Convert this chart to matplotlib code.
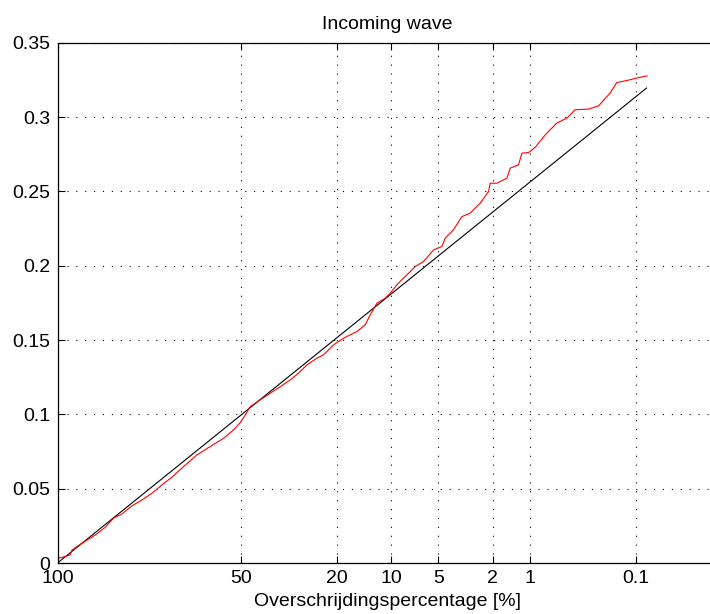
import numpy as np
import matplotlib
matplotlib.use('Agg')
import matplotlib.pyplot as plt
from matplotlib.ticker import NullLocator

# Overschrijdingspercentage (%) en golfhoogte van de gemeten verdeling (rood)
red_pct = [100.0, 99.96, 99.67, 99.57, 98.78, 97.10, 95.41, 93.73, 91.79, 89.21,
           86.29, 83.17, 79.85, 76.30, 72.05, 66.93, 61.77, 56.55, 52.73, 50.18,
           48.28, 46.42, 42.80, 39.27, 35.89, 32.68, 30.12, 27.67, 24.90, 23.19,
           20.72, 18.45, 15.70, 14.14, 13.26, 12.15, 10.87, 10.16, 9.26, 8.43,
           7.65, 7.11, 6.28, 5.38, 4.72, 4.48, 3.92, 3.41, 2.97, 2.49,
           2.15, 2.09, 1.85, 1.54, 1.45, 1.24, 1.16, 1.02, 0.895, 0.734,
           0.580, 0.469, 0.394, 0.295, 0.236, 0.182, 0.156, 0.123, 0.0974, 0.0760]
red_h = [0.0032, 0.0038, 0.0054, 0.0087, 0.0133, 0.0188, 0.0240, 0.0301, 0.0330, 0.0384,
         0.0424, 0.0469, 0.0525, 0.0577, 0.0648, 0.0727, 0.0783, 0.0839, 0.0895, 0.0944,
         0.0996, 0.1052, 0.1097, 0.1142, 0.1186, 0.1231, 0.1277, 0.1332, 0.1378, 0.1400,
         0.1467, 0.1512, 0.1557, 0.1602, 0.1669, 0.1748, 0.1781, 0.1815, 0.1871, 0.1916,
         0.1960, 0.1994, 0.2028, 0.2106, 0.2129, 0.2185, 0.2241, 0.2330, 0.2353, 0.2421,
         0.2499, 0.2555, 0.2555, 0.2589, 0.2656, 0.2678, 0.2757, 0.2761, 0.2797, 0.2880,
         0.2959, 0.2993, 0.3049, 0.3053, 0.3075, 0.3161, 0.3232, 0.3246, 0.3262, 0.3277]

# Rayleigh-lijn (zwart), recht op Rayleigh-papier
black_pct = [100.0, 0.077]
black_h = [0.0, 0.3195]

xtick_vals = [100, 50, 20, 10, 5, 2, 1, 0.1]
xtick_labels = ['100', '50', '20', '10', '5', '2', '1', '0.1']
ytick_vals = [0, 0.05, 0.1, 0.15, 0.2, 0.25, 0.3, 0.35]
ytick_labels = ['0', '0.05', '0.1', '0.15', '0.2', '0.25', '0.3', '0.35']


def rayleigh_fwd(p):
    p = np.clip(np.asarray(p, dtype=float), 1e-9, 100.0)
    return np.sqrt(np.abs(-np.log(p / 100.0)))


def rayleigh_inv(z):
    z = np.asarray(z, dtype=float)
    return 100.0 * np.exp(-z ** 2)


plt.rcParams['font.family'] = ['Liberation Sans', 'DejaVu Sans']
plt.rcParams['font.size'] = 14

fig = plt.figure(figsize=(7.10, 6.14), dpi=100)
ax = fig.add_axes([57.5 / 710, 1 - 563 / 614, 660 / 710, (563 - 42.7) / 614])

ax.set_xscale('function', functions=(rayleigh_fwd, rayleigh_inv))

ax.plot(black_pct, black_h, color='black', lw=0.8)
ax.plot(red_pct, red_h, color='red', lw=0.8)

ax.set_xticks(xtick_vals)
ax.set_xticklabels(xtick_labels)
ax.xaxis.set_minor_locator(NullLocator())
ax.set_yticks(ytick_vals)
ax.set_yticklabels(ytick_labels)

ax.set_xlim(float(rayleigh_inv(3.0)), 100)
ax.set_ylim(0, 0.35)

ax.grid(True, color='black', linestyle=(0, (1, 7)), lw=0.8)
ax.tick_params(direction='in', top=True, right=True, length=5, width=0.8, pad=5)
for s in ax.spines.values():
    s.set_linewidth(0.9)

ax.set_title('Incoming wave', fontsize=14, pad=10)
ax.set_xlabel('Overschrijdingspercentage [%]', fontsize=14, labelpad=4)

plt.savefig('out.png', dpi=100)
